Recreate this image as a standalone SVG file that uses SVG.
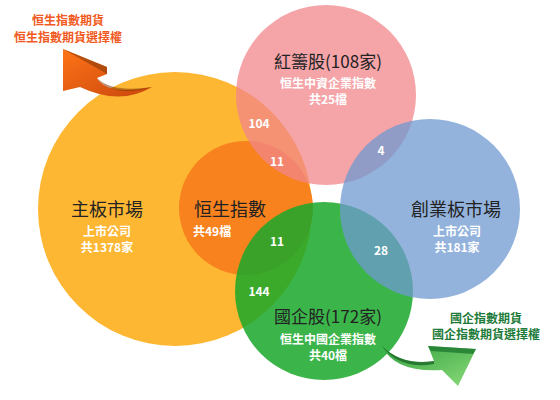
<svg xmlns="http://www.w3.org/2000/svg" width="560" height="400" viewBox="0 0 560 400">
<style>
text{font-family:"Noto Sans CJK TC","Noto Sans",sans-serif;text-anchor:middle}
.t{font-size:18px;fill:#222}
.w{font-size:12px;font-weight:bold;fill:#fff}
.n{font-size:12px;font-weight:bold;fill:#fff}
.o{font-size:12px;font-weight:bold;fill:#F15A22}
.g{font-size:12px;font-weight:bold;fill:#1E7B3A}
</style>
<defs>
<linearGradient id="og" x1="0" y1="0" x2="1" y2="1">
<stop offset="0" stop-color="#FF7418"/><stop offset="1" stop-color="#C8460C"/>
</linearGradient>
<linearGradient id="gg" x1="0" y1="0" x2="1" y2="1">
<stop offset="0" stop-color="#34A040"/><stop offset="1" stop-color="#8ADB78"/>
</linearGradient>
</defs>
<g id="main"><circle cx="175" cy="209" r="137" fill="#FDB733"/></g>
<g id="hsi"><circle cx="246" cy="208" r="67" fill="#F8821E"/></g>
<g id="redchip"><circle cx="326" cy="95" r="90" fill="#F1868B" opacity="0.75"/></g>
<g id="hshare"><circle cx="324" cy="291" r="89" fill="#19A82A" opacity="0.85"/></g>
<g id="gem"><circle cx="430" cy="209" r="90" fill="#6F9AD0" opacity="0.75"/></g>
<g id="connectors">
<path d="M63,49 L107,67 L107,74 L97,78 Q108,96 152,87 Q120,106 80,87 L63,91 Z" fill="url(#og)"/>
<path d="M63,49 L107,67 L107,74 L102,71 Z" fill="#8A3A08" opacity="0.6"/>
<path d="M97,78 Q112,93 152,87 Q118,97 100,82 Z" fill="#7A3000" opacity="0.5"/>
<path d="M382,346 Q395,373 442,370 L458,386 L476,349 L428,346 L434,361 Q402,366 382,346 Z" fill="url(#gg)"/>
<path d="M428,346 L476,349 L473,354 L431,351 Z" fill="#1E7B30" opacity="0.8"/>
<path d="M382,346 Q402,366 434,361 L434,364 Q400,370 382,346 Z" fill="#145E22" opacity="0.7"/>
</g>
<g id="labels">
<text class="o" x="68" y="25">恒生指數期貨</text>
<text class="o" x="68" y="42">恒生指數期貨選擇權</text>
<text class="g" x="486" y="323">國企指數期貨</text>
<text class="g" x="486" y="339">國企指數期貨選擇權</text>
<text class="t" x="328" y="68" style="font-size:17px">紅籌股(108家)</text>
<text class="w" x="328" y="88">恒生中資企業指數</text>
<text class="w" x="328" y="104">共25檔</text>
<text class="t" x="107" y="216">主板市場</text>
<text class="w" x="107" y="236">上市公司</text>
<text class="w" x="107" y="252">共1378家</text>
<text class="t" x="230" y="216">恒生指數</text>
<text class="w" x="193" y="236" style="text-anchor:start">共49檔</text>
<text class="t" x="456" y="216">創業板市場</text>
<text class="w" x="457" y="236">上市公司</text>
<text class="w" x="457" y="252">共181家</text>
<text class="t" x="328" y="323" style="font-size:17px">國企股(172家)</text>
<text class="w" x="328" y="344">恒生中國企業指數</text>
<text class="w" x="328" y="360">共40檔</text>
<text class="n" x="259" y="128">104</text>
<text class="n" x="277" y="166">11</text>
<text class="n" x="381" y="155">4</text>
<text class="n" x="277" y="246">11</text>
<text class="n" x="381" y="255">28</text>
<text class="n" x="259" y="296">144</text>
</g>
</svg>
